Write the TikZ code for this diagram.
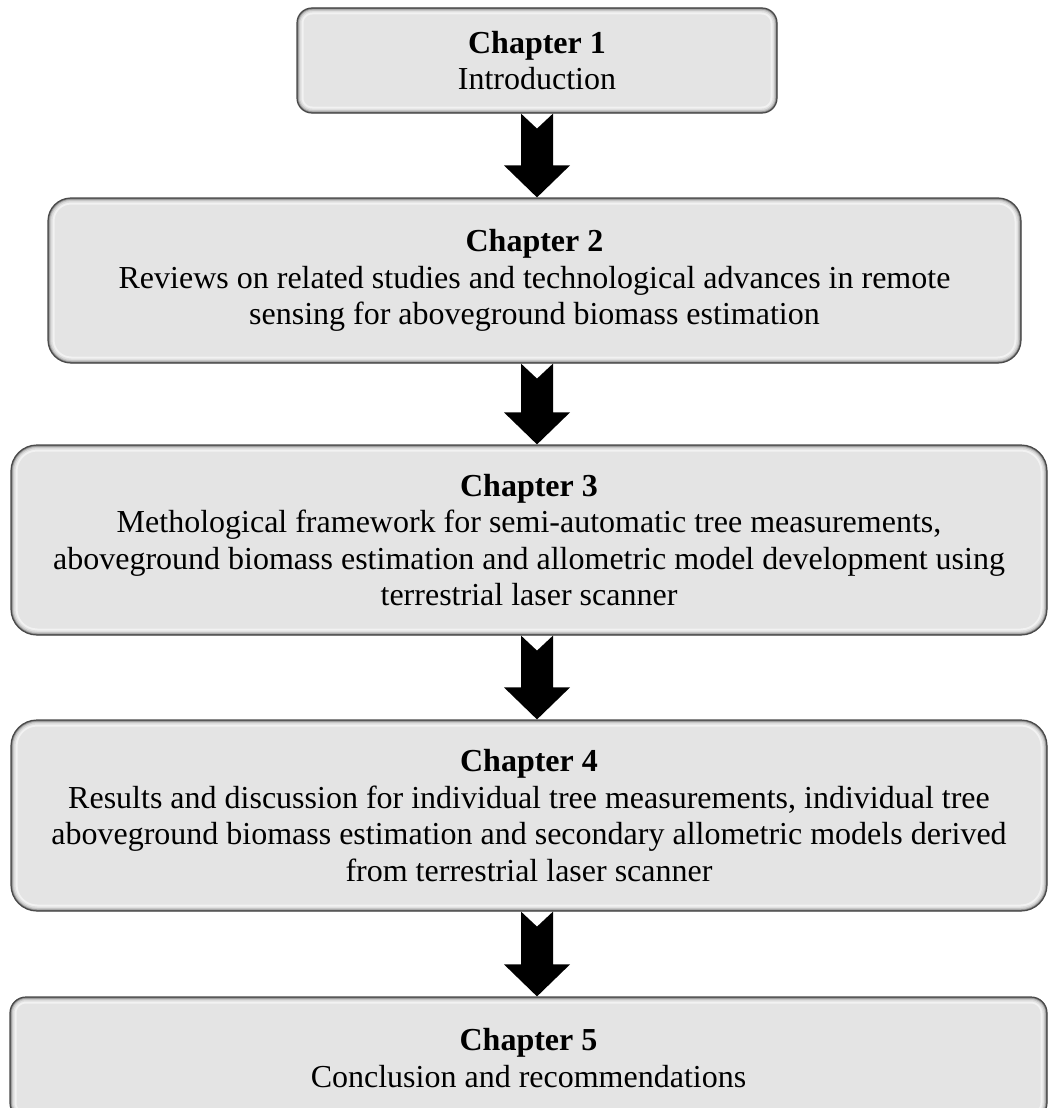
\documentclass[tikz,border=0pt]{standalone}
\usepackage{fontspec}
\setmainfont{Liberation Serif}
\usetikzlibrary{calc}
\definecolor{boxfill}{HTML}{E4E4E4}
\definecolor{boxline}{HTML}{4A4A4A}
\tikzset{
  chapbox/.style={
    draw=boxline, line width=1.2pt, fill=boxfill,
    rounded corners=#1, inner sep=0pt, align=center,
    font=\fontsize{32}{36.5}\selectfont,
    path picture={
      \foreach \w/\c in {13/black!5, 9/black!12, 6/black!22, 3.5/black!38, 1.8/black!55}
        \draw[\c, line width=\w pt, rounded corners=#1]
          (path picture bounding box.south west) rectangle (path picture bounding box.north east);
    }
  },
  bigarrow/.style={fill=black, draw=none}
}
\newcommand\chaparrow[2]{%
  \path[bigarrow]
    ($(#1.south -| mid)+(-16,0)$) -- ($(#1.south -| mid)+(0,15)$) -- ($(#1.south -| mid)+(16,0)$)
    -- ($(#2.north -| mid)+(16,-32)$) -- ($(#2.north -| mid)+(33,-32)$) -- (#2.north -| mid)
    -- ($(#2.north -| mid)+(-33,-32)$) -- ($(#2.north -| mid)+(-16,-32)$) -- cycle;}
\begin{document}
\begin{tikzpicture}[x=1pt,y=-1pt]
\useasboundingbox (0,0) rectangle (1048,1108);
\fill[white] (0,0) rectangle (1048,1108);
\coordinate (mid) at (537,0);
\node[chapbox=15pt, minimum width=480pt, minimum height=105pt] (c1) at (537,60.5)
  {\textbf{Chapter 1}\\Introduction};
\node[chapbox=23pt, minimum width=973pt, minimum height=165pt] (c2) at (534.5,280.5)
  {\textbf{Chapter 2}\\Reviews on related studies and technological advances in remote\\sensing for aboveground biomass estimation};
\node[chapbox=26pt, minimum width=1036pt, minimum height=190pt] (c3) at (529,540)
  {\textbf{Chapter 3}\\Methological framework for semi-automatic tree measurements,\\aboveground biomass estimation and allometric model development using\\terrestrial laser scanner};
\node[chapbox=26pt, minimum width=1036pt, minimum height=191pt] (c4) at (529,815.5)
  {\textbf{Chapter 4}\\Results and discussion for individual tree measurements, individual tree\\aboveground biomass estimation and secondary allometric models derived\\from terrestrial laser scanner};
\node[chapbox=16pt, minimum width=1037pt, minimum height=122pt] (c5) at (528.5,1058)
  {\textbf{Chapter 5}\\Conclusion and recommendations};
\chaparrow{c1}{c2}
\chaparrow{c2}{c3}
\chaparrow{c3}{c4}
\chaparrow{c4}{c5}
\end{tikzpicture}
\end{document}
